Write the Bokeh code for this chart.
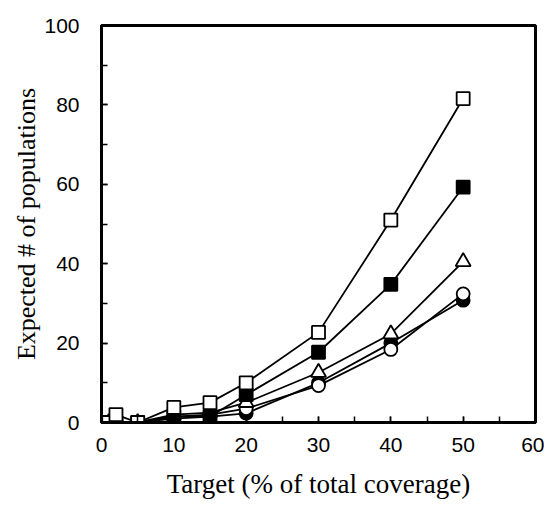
from bokeh.plotting import figure
from bokeh.models import Range1d, FixedTicker
from bokeh.embed import file_html
from bokeh.resources import INLINE

x = [1, 2, 5, 10, 15, 20, 30, 40, 50]
open_square = [0, 2, 0, 3.8, 5, 10, 22.7, 51, 81.6]
filled_square = [0, 0, 0, 1.5, 1.5, 7, 17.7, 34.8, 59.3]
open_triangle = [0, 0, 0, 2, 2.5, 5, 12.6, 22.3, 40.5]
open_circle = [0, 0, 0, 1.5, 2, 3.5, 9.3, 18.4, 32.4]
filled_circle = [0, 0, 0, 1, 1.5, 2.3, 10, 20, 30.8]

x_ticks = [0, 10, 20, 30, 40, 50, 60]
y_ticks = [0, 20, 40, 60, 80, 100]

p = figure(width=544, height=510, output_backend="svg", toolbar_location=None,
           x_range=Range1d(0, 60), y_range=Range1d(0, 100),
           min_border_left=101, min_border_right=9, min_border_top=25, min_border_bottom=88)
p.grid.visible = False
p.outline_line_color = "black"
p.outline_line_width = 3
p.background_fill_color = "white"
p.border_fill_color = "white"

series = [
    (filled_circle, "circle", "black"),
    (open_circle, "circle", "white"),
    (open_triangle, "triangle", "white"),
    (filled_square, "square", "black"),
    (open_square, "square", "white"),
]
for ys, marker, fill in series:
    p.line(x, ys, line_color="black", line_width=1.8)
for ys, marker, fill in series:
    size = 13 if marker != "triangle" else 15
    p.scatter(x, ys, marker=marker, size=size, fill_color=fill,
              line_color="black", line_width=1.8)

p.xaxis.ticker = FixedTicker(ticks=x_ticks, minor_ticks=list(range(0, 61, 5)))
p.yaxis.ticker = FixedTicker(ticks=y_ticks, minor_ticks=list(range(0, 101, 10)))

for ax in (p.xaxis[0], p.yaxis[0]):
    ax.axis_line_width = 3
    ax.axis_line_color = "black"
    ax.major_tick_in = 6
    ax.major_tick_out = 0
    ax.minor_tick_in = 6
    ax.minor_tick_out = 0
    ax.major_tick_line_width = 1.5
    ax.minor_tick_line_width = 1.5
    ax.major_label_text_font = "Liberation Sans"
    ax.major_label_text_font_size = "21px"
    ax.major_label_text_color = "black"
    ax.axis_label_text_font = "Liberation Serif"
    ax.axis_label_text_font_style = "normal"
    ax.axis_label_text_color = "black"

p.xaxis.axis_label = "Target (% of total coverage)"
p.yaxis.axis_label = "Expected # of populations"
p.xaxis.axis_label_text_font_size = "27px"
p.yaxis.axis_label_text_font_size = "26px"
p.xaxis.major_label_standoff = 15
p.yaxis.major_label_standoff = 22
p.xaxis.axis_label_standoff = 14
p.yaxis.axis_label_standoff = 0

open("out.html", "w").write(file_html(p, INLINE))
